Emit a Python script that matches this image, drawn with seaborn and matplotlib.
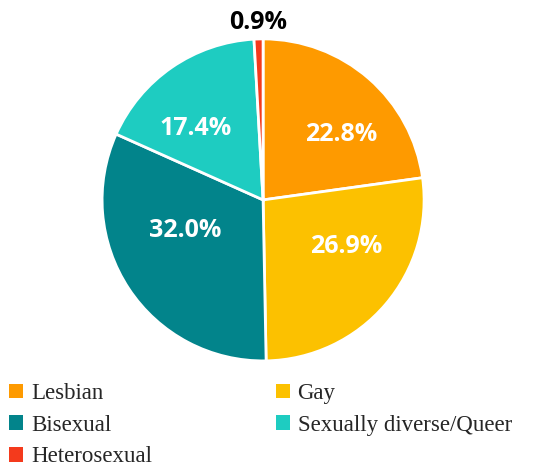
import matplotlib
matplotlib.use("Agg")
import matplotlib.pyplot as plt
import numpy as np
import seaborn as sns

# Data
groups = ["Lesbian", "Gay", "Bisexual", "Sexually diverse/Queer", "Heterosexual"]
shares = [22.8, 26.9, 32.0, 17.4, 0.9]
colors = ["#FE9A00", "#FCC100", "#02848B", "#1ECCC1", "#F43A1C"]
legend_order = ["Lesbian", "Bisexual", "Heterosexual", "Gay", "Sexually diverse/Queer"]

# label placement tweaks: (angle shift in degrees, radius)
label_nudge = [(-9, 0.63), (11, 0.59), (-12, 0.52), (9, 0.61), (0, 1.10)]

sns.set_theme(style="white")
palette = sns.color_palette(colors)

fig = plt.figure(figsize=(5.43, 4.66), dpi=100)
ax = fig.add_axes([0.188, 0.2255, 0.593, 0.691])

wedges, texts, autotexts = ax.pie(
    shares, colors=palette, startangle=90, counterclock=False,
    autopct=lambda p: f"{p:.1f}%", pctdistance=0.6,
    wedgeprops=dict(edgecolor="white", linewidth=2),
    textprops=dict(color="white", fontsize=18, fontweight="bold", fontstyle="normal",
                   family=["Open Sans", "DejaVu Sans"]),
)
ax.set_xlim(-1, 1)
ax.set_ylim(-1, 1)
ax.set_aspect("equal")

for w, t, v, (da, r) in zip(wedges, autotexts, shares, label_nudge):
    t.set_text(f"{v:.1f}%")
    mid = np.deg2rad((w.theta1 + w.theta2) / 2 + da)
    t.set_position((r * np.cos(mid), r * np.sin(mid)))
    if v < 5:
        # tiny slice label sits outside the pie
        t.set_color("black")
        t.set_clip_on(False)

handles = {g: w for g, w in zip(groups, wedges)}
leg = fig.legend(
    [handles[g] for g in legend_order], legend_order,
    ncol=2, loc="upper left", bbox_to_anchor=(-0.004, 0.203),
    frameon=False, handlelength=0.6, handleheight=0.6, handletextpad=0.35,
    columnspacing=5.4, labelspacing=0.47, borderpad=0,
    prop=dict(family="Liberation Serif", size=16.5),
)
for h in leg.legend_handles:
    h.set_edgecolor("none")

fig.savefig("out.png", dpi=100)
